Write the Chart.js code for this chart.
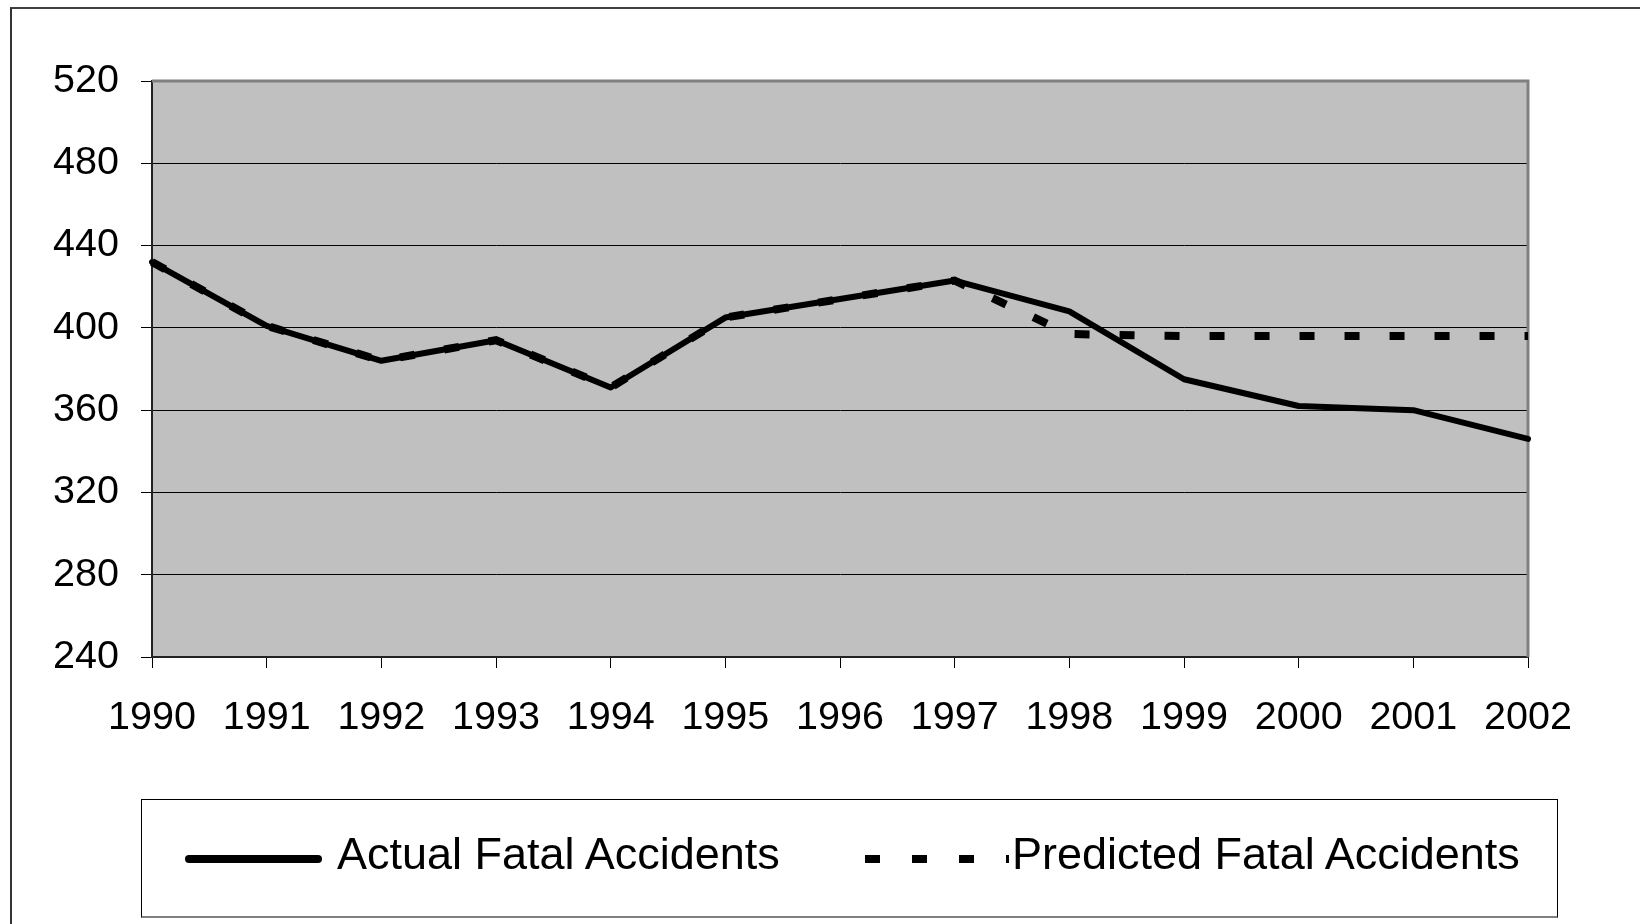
<!DOCTYPE html>
<html>
<head>
<meta charset="utf-8">
<script src="https://cdn.jsdelivr.net/npm/chart.js@4/dist/chart.umd.min.js"></script>
<style>
    body { margin: 0; background: #fff; }
    #wrap { position: relative; width: 1640px; height: 924px; overflow: hidden; font-family: "Liberation Sans", Arial, sans-serif; }
    #frame { position: absolute; left: 10px; top: 7px; width: 1700px; height: 1000px; border-left: 2px solid #333; border-top: 2px solid #404040; }
    #liveChart { position: absolute; left: 0; top: 0; }
    #legendBox { position: absolute; left: 141px; top: 799px; width: 1415px; height: 116px; border: 1px solid #000; border-bottom: 2px solid #808080; }
    .legText { position: absolute; top: 831px; font-size: 45px; line-height: 45px; color: #000; white-space: nowrap; }
    #sampleActual { position: absolute; left: 185px; top: 855px; width: 137px; height: 8px; background: #000; border-radius: 4px; }
    #samplePred { position: absolute; left: 865px; top: 855px; width: 144px; height: 8px;
        background: repeating-linear-gradient(to right, #000 0 15px, transparent 15px 47px); }
</style>
</head>
<body>
<div id="wrap">
    <div id="frame"></div>
    <canvas id="liveChart" width="1640" height="924"></canvas>
    <div id="legendBox"></div>
    <div id="sampleActual"></div>
    <div class="legText" style="left:337px">Actual Fatal Accidents</div>
    <div id="samplePred"></div>
    <div class="legText" style="left:1012px">Predicted Fatal Accidents</div>
</div>
<script>
const years = ['1990', '1991', '1992', '1993', '1994', '1995', '1996', '1997', '1998', '1999', '2000', '2001', '2002'];
const actualFatal = [432, 401, 384, 394, 371, 405, 414, 423, 408, 375, 362, 360, 346];
const predictedFatal = [432, 401, 384, 394, 371, 405, 414, 423, 397, 396, 396, 396, 396];

const tickFont = { family: '"Liberation Sans", Arial, sans-serif', size: 39.5 };

// grey plot area with the raised border on top/right
const plotArea = {
    id: 'plotArea',
    beforeDraw(chart) {
        const { ctx, chartArea: a } = chart;
        ctx.save();
        ctx.fillStyle = '#c0c0c0';
        ctx.fillRect(a.left, a.top, a.right - a.left, a.bottom - a.top);
        ctx.restore();
    },
    beforeDatasetsDraw(chart) {
        const { ctx, chartArea: a } = chart;
        ctx.save();
        ctx.strokeStyle = '#808080';
        ctx.lineWidth = 3;
        ctx.beginPath();
        ctx.moveTo(a.left, a.top);
        ctx.lineTo(a.right, a.top);
        ctx.lineTo(a.right, a.bottom);
        ctx.stroke();
        ctx.restore();
    }
};

const ctx = document.getElementById('liveChart').getContext('2d');

const chart = new Chart(ctx, {
    type: 'line',
    data: {
        labels: years,
        datasets: [
            { label: 'Actual Fatal Accidents', data: actualFatal, borderColor: '#000', borderWidth: 6,
              borderCapStyle: 'round', borderJoinStyle: 'round', pointRadius: 0, tension: 0, fill: false },
            { label: 'Predicted Fatal Accidents', data: predictedFatal, borderColor: '#000', borderWidth: 8,
              borderDash: [15, 30], borderCapStyle: 'butt', pointRadius: 0, tension: 0, fill: false }
        ]
    },
    options: {
        responsive: false,
        animation: false,
        layout: { padding: { top: 81, right: 112, bottom: 167, left: 0 } },
        plugins: { legend: { display: false }, tooltip: { enabled: false } },
        scales: {
            x: {
                offset: false,
                afterFit(scale) { scale.height = 100; },
                grid: { drawOnChartArea: false, drawTicks: true, tickLength: 11, color: '#000' },
                border: { display: true, color: '#222', width: 2 },
                ticks: { color: '#000', font: tickFont, padding: 26, maxRotation: 0, autoSkip: false }
            },
            y: {
                min: 240,
                max: 520,
                afterFit(scale) { scale.width = 152; },
                grid: { color: '#000', lineWidth: 1, drawTicks: true, tickLength: 11 },
                border: { display: true, color: '#222', width: 2 },
                ticks: { stepSize: 40, color: '#000', font: tickFont, padding: 22 }
            }
        }
    },
    plugins: [plotArea]
});
</script>
</body>
</html>
